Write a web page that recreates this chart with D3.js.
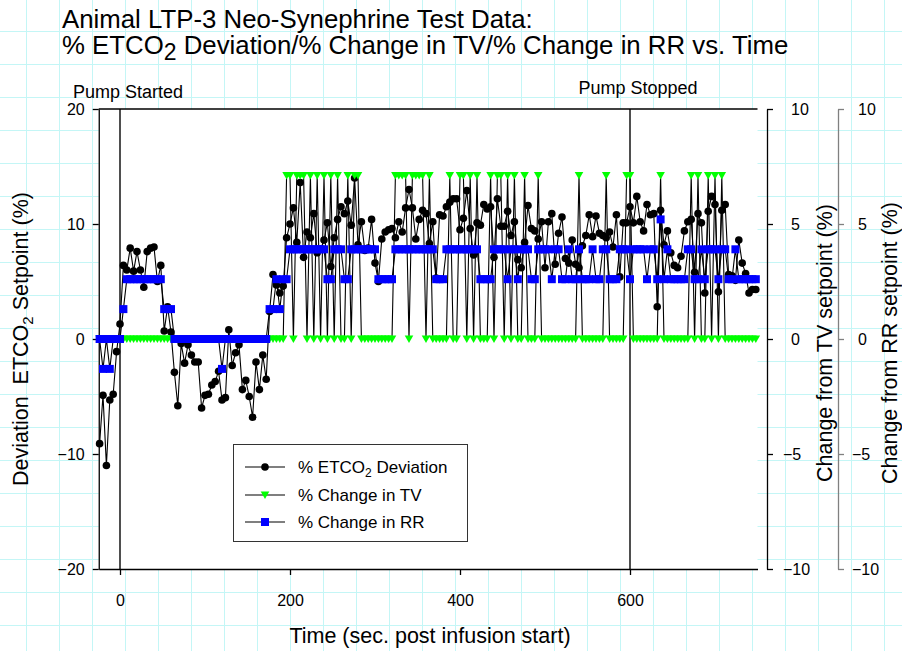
<!DOCTYPE html>
<html>
<head>
<meta charset="utf-8">
<script src="https://cdn.jsdelivr.net/npm/d3@7"></script>
<style>
  body { margin: 0; background: #fff; }
  svg { display: block; }
  text { font-family: "Liberation Sans", Arial, sans-serif; fill: #000; }
</style>
</head>
<body>
<svg id="chart" width="902" height="651"></svg>
<script>
// Time of each sample, seconds after infusion start
const times = [-24,-20,-16,-12,-8,-4,0,4,8,12,16,20,24,28,32,36,40,44,48,52,56,60,64,68,72,76,80,84,88,92,
  96,100,104,108,112,116,120,124,128,132,136,140,144,148,152,156,160,164,168,172,176,180,184,188,192,196,200,204,208,212,
  216,220,224,228,232,236,240,244,248,252,256,260,264,268,272,276,280,284,288,292,296,300,304,308,312,316,320,324,328,332,
  336,340,344,348,352,356,360,364,368,372,376,380,384,388,392,396,400,404,408,412,416,420,424,428,432,436,440,444,448,452,
  456,460,464,468,472,476,480,484,488,492,496,500,504,508,512,516,520,524,528,532,536,540,544,548,552,556,560,564,568,572,
  576,580,584,588,592,596,600,604,608,612,616,620,624,628,632,636,640,644,648,652,656,660,664,668,672,676,680,684,688,692,
  696,700,704,708,712,716,720,724,728,732,736,740,744,748];

// % ETCO2 deviation from setpoint
const etco2Deviation = [-9.1,-4.9,-11.0,-5.3,-4.8,-1.1,1.3,6.4,6.0,7.9,
  5.9,7.6,6.0,4.5,7.6,7.9,8.0,5.0,6.4,0.7,
  2.8,0.6,-2.9,-5.8,-0.4,-2.1,-0.5,-1.4,-2.0,-2.0,
  -6.0,-4.9,-4.8,-4.0,-3.7,-2.8,-5.3,-5.1,0.8,-2.3,
  -1.2,-0.5,-4.4,-3.6,-5.0,-6.8,-2.0,-4.4,-1.4,-3.5,
  2.4,5.6,4.7,4.0,4.6,8.8,10.0,11.4,8.4,13.6,
  7.1,9.3,8.8,10.9,7.5,7.8,8.6,10.1,6.3,8.8,
  10.4,11.5,10.9,12.0,9.9,14.0,8.2,10.2,7.7,7.9,
  10.4,6.6,5.0,8.7,9.3,9.5,9.6,8.8,10.2,9.3,
  11.4,13.0,11.4,8.7,10.4,11.2,10.9,8.3,10.2,5.3,
  10.8,10.7,11.5,11.9,12.2,12.2,9.5,10.5,12.9,9.6,
  7.3,10.1,9.9,11.7,11.3,11.5,7.1,12.2,9.8,9.8,
  11.1,9.0,10.2,6.9,6.2,8.4,11.6,9.6,9.4,8.7,
  10.2,6.2,10.2,10.9,6.5,9.2,10.6,7.0,6.6,8.6,
  6.5,6.2,8.1,9.0,10.8,8.9,10.7,9.2,9.0,8.8,
  9.3,8.0,10.8,5.4,10.1,10.1,11.5,10.1,12.4,10.2,
  9.4,11.7,10.8,10.9,2.8,11.2,8.2,9.4,7.5,6.4,
  6.2,7.2,9.4,10.2,10.4,5.8,10.9,10.1,4.0,11.1,
  12.4,11.7,4.1,11.2,11.7,5.6,5.5,5.1,8.6,6.6,
  5.7,4.0,4.3,4.3];

// % change from tidal volume setpoint
const tvChange = [0,0,0,0,0,0,0,0,0,0,
  0,0,0,0,0,0,0,0,0,0,
  0,0,0,0,0,0,0,0,0,0,
  0,0,0,0,0,0,0,0,0,0,
  0,0,0,0,0,0,0,0,0,0,
  0,0,0,0,0,7.1,7.1,0,7.1,7.1,
  7.1,0,7.1,0,7.1,0,7.1,0,7.1,0,
  7.1,0,0,7.1,0,7.1,7.1,0,0,0,
  0,0,0,0,0,0,0,7.1,7.1,7.1,
  7.1,0,7.1,7.1,7.1,7.1,0,7.1,0,0,
  0,0,0,7.1,0,0,7.1,7.1,0,7.1,
  0,7.1,0,0,0,7.1,0,7.1,7.1,0,
  7.1,0,7.1,0,0,7.1,0,0,0,7.1,
  0,0,0,0,0,0,0,0,0,0,
  0,7.1,0,0,0,0,0,0,0,7.1,
  0,0,0,0,0,7.1,7.1,0,0,0,
  0,0,0,0,0,7.1,0,0,0,0,
  0,0,0,0,7.1,0,7.1,0,0,7.1,
  0,7.1,0,7.1,0,0,0,0,0,0,
  0,0,0,0];

// % change from respiratory rate setpoint
const rrChange = [0,-1.3,0,-1.3,0,0,0,1.3,2.6,2.6,
  2.6,2.6,2.6,2.6,2.6,2.6,2.6,2.6,2.6,1.3,
  1.3,1.3,0,0,0,0,0,0,0,0,
  0,0,0,0,0,0,-1.3,0,0,0,
  0,0,0,0,0,0,0,0,0,0,
  1.3,1.3,2.6,1.3,2.6,2.6,3.9,3.9,3.9,3.9,
  3.9,3.9,3.9,3.9,3.9,3.9,3.9,2.6,2.6,3.9,
  3.9,3.9,2.6,2.6,3.9,3.9,3.9,3.9,3.9,3.9,
  3.9,3.9,2.6,2.6,2.6,2.6,2.6,3.9,3.9,3.9,
  3.9,3.9,3.9,3.9,3.9,3.9,3.9,3.9,3.9,2.6,
  2.6,2.6,3.9,3.9,3.9,3.9,3.9,3.9,3.9,3.9,
  3.9,3.9,2.6,2.6,2.6,2.6,3.9,3.9,3.9,3.9,
  2.6,3.9,3.9,2.6,3.9,3.9,3.9,2.6,2.6,3.9,
  3.9,3.9,3.9,2.6,3.9,3.9,2.6,2.6,3.9,2.6,
  2.6,3.9,2.6,2.6,2.6,3.9,2.6,2.6,3.9,3.9,
  2.6,2.6,2.6,3.9,3.9,3.9,2.6,3.9,3.9,3.9,
  3.9,2.6,3.9,3.9,2.6,5.2,2.6,3.9,2.6,2.6,
  2.6,2.6,2.6,3.9,3.9,2.6,2.6,3.9,2.6,3.9,
  3.9,3.9,2.6,3.9,3.9,2.6,2.6,3.9,2.6,2.6,
  2.6,2.6,2.6,2.6];

const etcoTicks = [-20, -10, 0, 10, 20];
const sideTicks = [-10, -5, 0, 5, 10];
const timeTicks = [0, 200, 400, 600];
const events = [{ t: 0, label: "Pump Started" }, { t: 600, label: "Pump Stopped" }];

const W = 902, H = 651;
const svg = d3.select("#chart");
const frame = { left: 98.75, right: 757.5, top: 109, bottom: 569 };
const tvAxisX = 767, rrAxisX = 838;

const x = d3.scaleLinear().domain([-25, 750]).range([frame.left, frame.right]);
const yEtco = d3.scaleLinear().domain([-20, 20]).range([frame.bottom, frame.top]);
const ySide = d3.scaleLinear().domain([-10, 10]).range([frame.bottom, frame.top]);

// graph-paper background
const paper = svg.append("g").attr("stroke", "#c4f6f6").attr("stroke-width", 1);
for (let gx = 26; gx < W; gx += 33) {
  paper.append("line").attr("x1", gx + 0.5).attr("x2", gx + 0.5).attr("y1", 0).attr("y2", H);
}
for (let gy = 31; gy < H; gy += 33) {
  paper.append("line").attr("x1", 0).attr("x2", W).attr("y1", gy + 0.5).attr("y2", gy + 0.5);
}

// plotting area
svg.append("rect")
  .attr("x", frame.left).attr("y", frame.top)
  .attr("width", frame.right - frame.left).attr("height", frame.bottom - frame.top)
  .attr("fill", "#fff");

// title
const title = svg.append("text").attr("font-size", 25.8);
title.append("tspan").attr("x", 62).attr("y", 28).text("Animal LTP-3 Neo-Synephrine Test Data:");
const t2 = svg.append("text").attr("font-size", 25.8).attr("x", 62).attr("y", 54);
t2.append("tspan").text("% ETCO");
t2.append("tspan").attr("dy", 6).attr("font-size", 23).text("2");
t2.append("tspan").attr("dy", -6).text(" Deviation/% Change in TV/% Change in RR vs. Time");

// event markers
events.forEach(e => {
  svg.append("line")
    .attr("x1", x(e.t)).attr("x2", x(e.t))
    .attr("y1", frame.top).attr("y2", frame.bottom)
    .attr("stroke", "#222").attr("stroke-width", 1.6);
  svg.append("text")
    .attr("x", x(e.t) + 8).attr("y", e.t === 0 ? 98 : 94)
    .attr("text-anchor", "middle").attr("font-size", 18)
    .text(e.label);
});

// axes
function styleAxis(g, color) {
  g.selectAll("path, line").attr("stroke", color).attr("stroke-width", 1.3);
  g.selectAll("text").attr("font-size", 16).attr("font-family", '"Liberation Sans", Arial, sans-serif').attr("fill", "#000");
}

const leftAxis = svg.append("g").attr("transform", `translate(${frame.left},0)`)
  .call(d3.axisLeft(yEtco).tickValues(etcoTicks).tickSize(6).tickSizeOuter(0).tickPadding(8));
styleAxis(leftAxis, "#000");

const bottomAxis = svg.append("g").attr("transform", `translate(0,${frame.bottom})`)
  .call(d3.axisBottom(x).tickValues(timeTicks).tickSize(6).tickSizeOuter(0).tickPadding(20));
styleAxis(bottomAxis, "#000");

svg.append("line")
  .attr("x1", frame.left).attr("x2", frame.right)
  .attr("y1", frame.top).attr("y2", frame.top)
  .attr("stroke", "#000").attr("stroke-width", 1.3);

const tvAxis = svg.append("g").attr("transform", `translate(${tvAxisX},0)`)
  .call(d3.axisRight(ySide).tickValues(sideTicks).tickSize(6).tickSizeOuter(0));
styleAxis(tvAxis, "#000");
tvAxis.selectAll(".tick text").attr("x", d => d < 0 ? 16 : 24);

const rrAxis = svg.append("g").attr("transform", `translate(${rrAxisX},0)`)
  .call(d3.axisRight(ySide).tickValues(sideTicks).tickSize(6).tickSizeOuter(0));
styleAxis(rrAxis, "#808080");
rrAxis.selectAll(".tick text").attr("x", d => d < 0 ? 14 : 20);

// axis titles
const yTitle = svg.append("text").attr("font-size", 21.5).attr("text-anchor", "middle")
  .attr("transform", "translate(28,339) rotate(-90)");
yTitle.append("tspan").text("Deviation\u00a0 ETCO");
yTitle.append("tspan").attr("dy", 5).attr("font-size", 15).text("2");
yTitle.append("tspan").attr("dy", -5).text(" Setpoint (%)");

svg.append("text").attr("font-size", 21.5).attr("text-anchor", "middle")
  .attr("transform", "translate(832,343) rotate(-90)")
  .text("Change from TV setpoint (%)");
svg.append("text").attr("font-size", 21.5).attr("text-anchor", "middle")
  .attr("transform", "translate(897,343) rotate(-90)")
  .text("Change from RR setpoint (%)");

svg.append("text").attr("font-size", 21.5).attr("text-anchor", "middle")
  .attr("x", 430).attr("y", 643)
  .text("Time (sec. post infusion start)");

// series
const rows = times.map((t, i) => ({ t, e: etco2Deviation[i], tv: tvChange[i], rr: rrChange[i] }));
const tri = "M-4.3,-3.6L4.3,-3.6L0,3.9Z";

const lineE = d3.line().x(d => x(d.t)).y(d => yEtco(d.e));
const lineTV = d3.line().x(d => x(d.t)).y(d => ySide(d.tv));
const lineRR = d3.line().x(d => x(d.t)).y(d => ySide(d.rr));

svg.append("path").datum(rows).attr("d", lineE).attr("fill", "none").attr("stroke", "#000").attr("stroke-width", 1.1);
svg.append("g").selectAll("circle").data(rows).join("circle")
  .attr("cx", d => x(d.t)).attr("cy", d => yEtco(d.e)).attr("r", 3.8).attr("fill", "#000");

svg.append("path").datum(rows).attr("d", lineTV).attr("fill", "none").attr("stroke", "#000").attr("stroke-width", 1.1);
svg.append("g").selectAll("path").data(rows).join("path")
  .attr("d", tri).attr("transform", d => `translate(${x(d.t)},${ySide(d.tv)})`).attr("fill", "#00ff00");

svg.append("path").datum(rows).attr("d", lineRR).attr("fill", "none").attr("stroke", "#000").attr("stroke-width", 1.1);
svg.append("g").selectAll("rect").data(rows).join("rect")
  .attr("x", d => x(d.t) - 4).attr("y", d => ySide(d.rr) - 4)
  .attr("width", 8).attr("height", 8).attr("fill", "#0000ff");

// legend
const legend = svg.append("g");
legend.append("rect").attr("x", 233.5).attr("y", 444.5).attr("width", 234).attr("height", 97)
  .attr("fill", "#fff").attr("stroke", "#333").attr("stroke-width", 1);
const legendRows = [
  { y: 467, kind: "circle", parts: ["% ETCO", "2", " Deviation"] },
  { y: 495, kind: "tri", parts: ["% Change in TV"] },
  { y: 522, kind: "square", parts: ["% Change in RR"] }
];
legendRows.forEach(r => {
  legend.append("line").attr("x1", 245).attr("x2", 285).attr("y1", r.y).attr("y2", r.y)
    .attr("stroke", "#000").attr("stroke-width", 1.1);
  if (r.kind === "circle") legend.append("circle").attr("cx", 265).attr("cy", r.y).attr("r", 3.8).attr("fill", "#000");
  if (r.kind === "tri") legend.append("path").attr("d", tri).attr("transform", `translate(265,${r.y})`).attr("fill", "#00ff00");
  if (r.kind === "square") legend.append("rect").attr("x", 261).attr("y", r.y - 4).attr("width", 8).attr("height", 8).attr("fill", "#0000ff");
  const tx = legend.append("text").attr("x", 298).attr("y", r.y + 6).attr("font-size", 17);
  tx.append("tspan").text(r.parts[0]);
  if (r.parts.length > 1) {
    tx.append("tspan").attr("dy", 4).attr("font-size", 12).text(r.parts[1]);
    tx.append("tspan").attr("dy", -4).text(r.parts[2]);
  }
});
</script>
</body>
</html>
